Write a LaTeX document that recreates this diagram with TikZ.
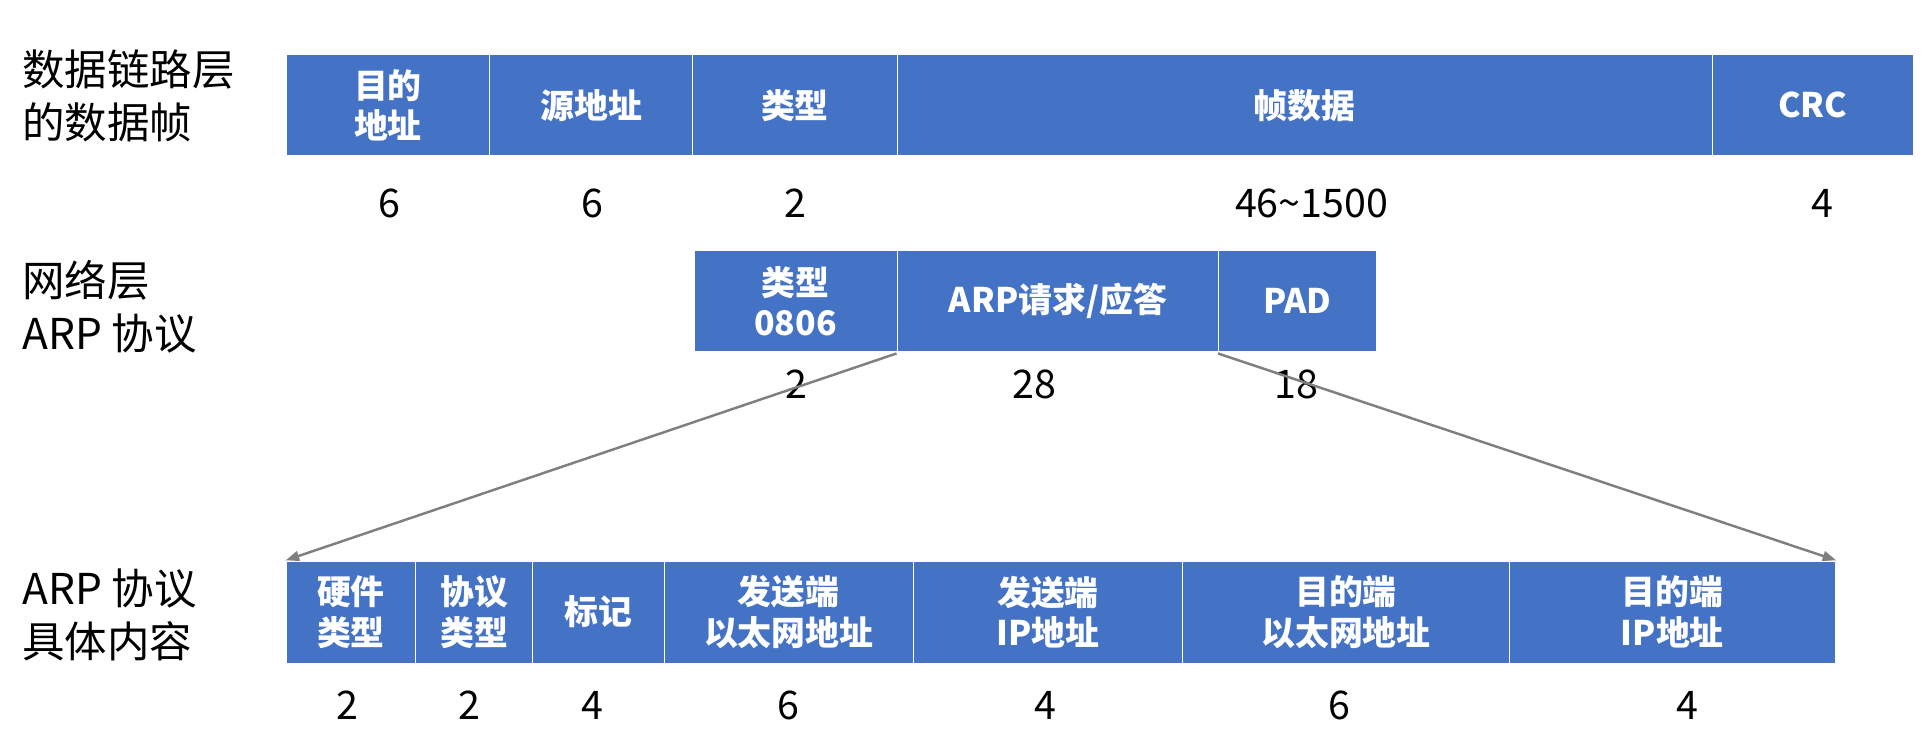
\documentclass[tikz,border=0pt]{standalone}
\usepackage{fontspec}
\setmainfont{Noto Sans CJK SC}
\usetikzlibrary{arrows.meta}
\definecolor{boxblue}{HTML}{4472C4}
\definecolor{arrowgray}{HTML}{7F7F7F}
\tikzset{
  cell/.style={fill=boxblue, draw=white, line width=1pt, text=white, anchor=north west,
    inner sep=0pt, align=center, font=\bfseries\fontsize{27.5}{33}\selectfont},
  numlbl/.style={font=\fontsize{32}{36}\selectfont, inner sep=0pt},
  sidelbl/.style={font=\fontsize{34.5}{43}\selectfont, align=left, anchor=west, inner sep=0pt},
  zoomline/.style={draw=arrowgray, line width=2pt, -{Triangle[length=11pt,width=8pt]}}
}
\begin{document}
\begin{tikzpicture}[x=1pt,y=-1pt]
\useasboundingbox (0,0) rectangle (1568,611);
% side labels
\node[sidelbl] (l1) at (18,78) {数据链路层\\的数据帧};
\node[sidelbl] (l2) at (18,249) {网络层\\ARP 协议};
\node[sidelbl] (l3) at (18,499) {ARP 协议\\具体内容};
% row 1
\node[cell, minimum width=165pt, minimum height=82pt] (r1a) at (232,44) {目的\\地址};
\node[cell, minimum width=165pt, minimum height=82pt] (r1b) at (397,44) {源地址};
\node[cell, minimum width=166pt, minimum height=82pt] (r1c) at (562,44) {类型};
\node[cell, minimum width=662pt, minimum height=82pt] (r1d) at (728,44) {帧数据};
\node[cell, minimum width=163pt, minimum height=82pt] (r1e) at (1390,44) {CRC};
\node[numlbl] (n1a) at (316,165) {6};
\node[numlbl] (n1b) at (481,165) {6};
\node[numlbl] (n1c) at (646,165) {2};
\node[numlbl] (n1d) at (1065,165) {46\textasciitilde1500};
\node[numlbl] (n1e) at (1480,165) {4};
% row 2
\node[cell, minimum width=165pt, minimum height=82pt] (r2a) at (563,203) {类型\\0806};
\node[cell, minimum width=261pt, minimum height=82pt] (r2b) at (728,203) {ARP请求/应答};
\node[cell, minimum width=128pt, minimum height=82pt] (r2c) at (989,203) {PAD};
\node[numlbl] (n2a) at (647,312) {2};
\node[numlbl] (n2b) at (840,312) {28};
\node[numlbl] (n2c) at (1053,312) {18};
% row 3
\node[cell, minimum width=105pt, minimum height=83pt] (r3a) at (232,455) {硬件\\类型};
\node[cell, minimum width=95pt, minimum height=83pt] (r3b) at (337,455) {协议\\类型};
\node[cell, minimum width=107pt, minimum height=83pt] (r3c) at (432,455) {标记};
\node[cell, minimum width=202pt, minimum height=83pt] (r3d) at (539,455) {发送端\\以太网地址};
\node[cell, minimum width=219pt, minimum height=83pt] (r3e) at (741,455) {发送端\\IP地址};
\node[cell, minimum width=265pt, minimum height=83pt] (r3f) at (960,455) {目的端\\以太网地址};
\node[cell, minimum width=265pt, minimum height=83pt] (r3g) at (1225,455) {目的端\\IP地址};
\node[numlbl] (n3a) at (282,573) {2};
\node[numlbl] (n3b) at (381,573) {2};
\node[numlbl] (n3c) at (481,573) {4};
\node[numlbl] (n3d) at (640,573) {6};
\node[numlbl] (n3e) at (849,573) {4};
\node[numlbl] (n3f) at (1088,573) {6};
\node[numlbl] (n3g) at (1370,573) {4};
% zoom lines
\draw[zoomline] ([yshift=-1pt]r2b.south west) -- (r3a.north west);
\draw[zoomline] ([yshift=-1pt]r2c.south west) -- (r3g.north east);
\end{tikzpicture}
\end{document}
